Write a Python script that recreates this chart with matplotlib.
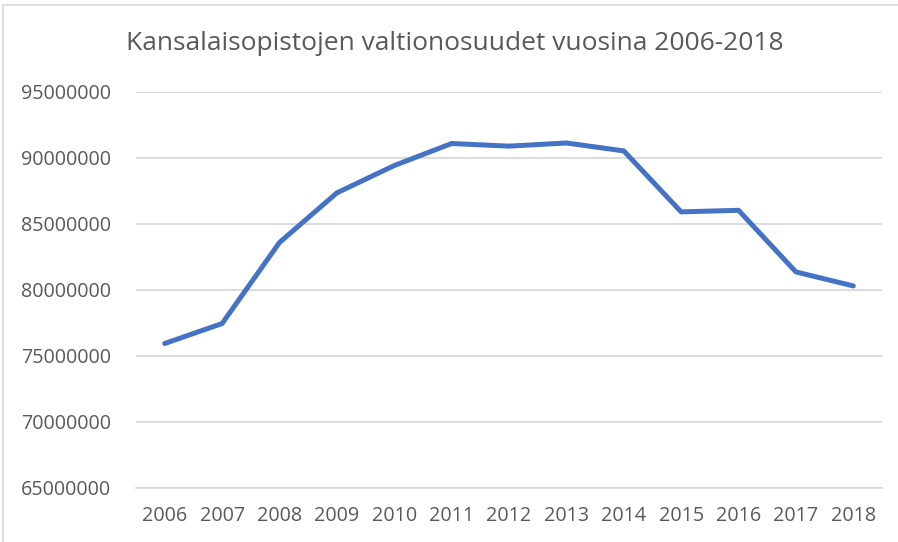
import matplotlib
matplotlib.use('Agg')
import matplotlib.pyplot as plt
from matplotlib.lines import Line2D

# data
years = ['2006', '2007', '2008', '2009', '2010', '2011', '2012',
         '2013', '2014', '2015', '2016', '2017', '2018']
valtionosuudet = [75910000, 77420000, 83560000, 87320000, 89390000,
                  91060000, 90860000, 91100000, 90500000, 85880000,
                  86000000, 81330000, 80270000]
y_ticks = [65000000, 70000000, 75000000, 80000000,
           85000000, 90000000, 95000000]

W, H = 898, 542
text_col = '#595959'
grid_col = '#D9D9D9'
plt.rcParams['font.family'] = ['Open Sans', 'DejaVu Sans']

fig = plt.figure(figsize=(W / 100, H / 100), dpi=100)
ax = fig.add_axes([136 / W, (H - 487.5) / H, 746 / W, (487.5 - 91.5) / H])

x = list(range(len(years)))
ax.plot(x, valtionosuudet, color='#4472C4', linewidth=3.6,
        solid_joinstyle='round', solid_capstyle='round', zorder=3)

ax.set_xlim(-0.5, len(years) - 0.5)
ax.set_ylim(y_ticks[0], y_ticks[-1])
ax.set_yticks(y_ticks)
ax.set_yticklabels([str(v) for v in y_ticks])
ax.set_xticks(x)
ax.set_xticklabels(years)
ax.tick_params(length=0, labelsize=14.2, colors=text_col)
ax.tick_params(axis='y', pad=18)
ax.tick_params(axis='x', pad=13)
ax.grid(axis='y', color=grid_col, linewidth=1.3)
for s in ['top', 'right', 'left']:
    ax.spines[s].set_visible(False)
ax.spines['bottom'].set_color(grid_col)
ax.spines['bottom'].set_linewidth(1.3)

fig.text(455 / W, 1 - 43 / H, 'Kansalaisopistojen valtionosuudet vuosina 2006-2018',
         ha='center', va='center', fontsize=19, color=text_col)

# outer chart border (top and left edges are visible)
fig.add_artist(Line2D([3 / W, 1], [1 - 4.5 / H, 1 - 4.5 / H],
                      transform=fig.transFigure, color=grid_col, linewidth=1.2))
fig.add_artist(Line2D([3 / W, 3 / W], [0, 1 - 4.5 / H],
                      transform=fig.transFigure, color=grid_col, linewidth=1.2))

fig.savefig('out.png', dpi=100, facecolor='white')
